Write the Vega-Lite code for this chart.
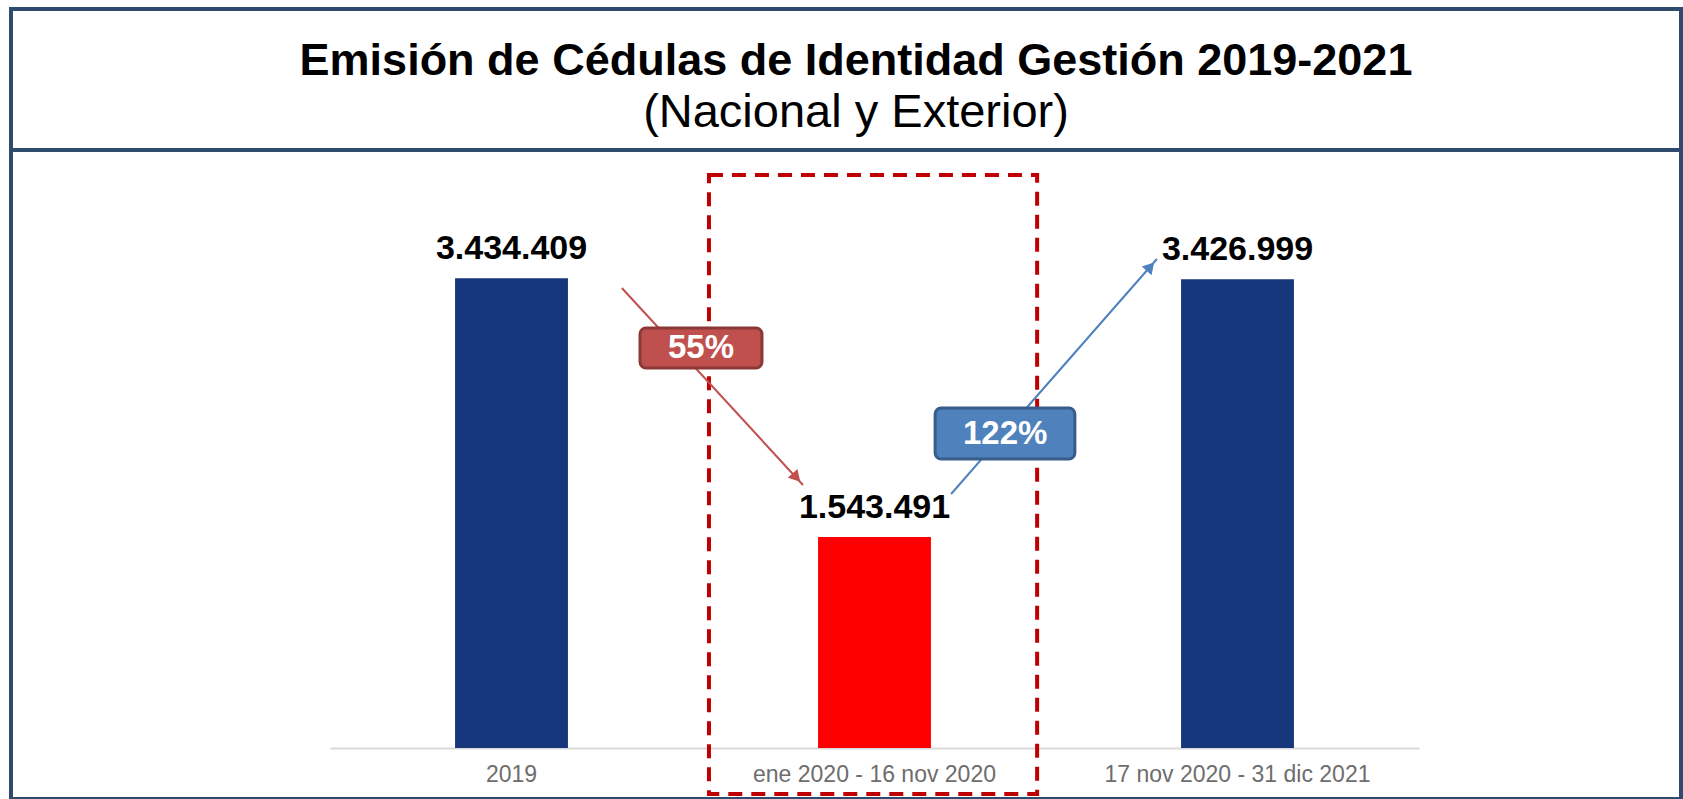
{
  "$schema": "https://vega.github.io/schema/vega-lite/v6.json",
  "width": 1670,
  "height": 790,
  "autosize": {"type": "none"},
  "padding": {"left": 11, "top": 9, "right": 2, "bottom": 0},
  "background": "white",
  "config": {
    "view": {"stroke": "#2E4A6D", "strokeWidth": 4, "fill": "white"},
    "locale": {"number": {"decimal": ",", "thousands": ".", "grouping": [3], "currency": ["", ""]}},
    "font": "Liberation Sans"
  },
  "title": {
    "text": "Emisión de Cédulas de Identidad Gestión 2019-2021",
    "subtitle": "\u2003\u2003(Nacional y Exterior)",
    "anchor": "middle",
    "frame": "group",
    "offset": -127,
    "dx": 10,
    "font": "Liberation Sans",
    "fontSize": 45,
    "fontWeight": "bold",
    "color": "black",
    "subtitleFont": "Liberation Sans",
    "subtitleFontSize": 47,
    "subtitleColor": "black",
    "subtitlePadding": 6
  },
  "layer": [
    {
      "data": {"values": [{}]},
      "mark": {"type": "rule", "stroke": "#2E4A6D", "strokeWidth": 4},
      "encoding": {
        "y": {"datum": 4372930, "type": "quantitative", "scale": {"domain": [0, 4000000], "range": [739, 192], "nice": false}, "axis": null}
      }
    },
    {
      "data": {"values": [
        {"periodo": "2019", "emisiones": 3434409, "tipo": "normal"},
        {"periodo": "ene 2020 - 16 nov 2020", "emisiones": 1543491, "tipo": "caida"},
        {"periodo": "17 nov 2020 -  31 dic 2021", "emisiones": 3426999, "tipo": "normal"}
      ]},
      "layer": [
        {
          "mark": {"type": "bar"},
          "encoding": {
            "x": {"field": "periodo", "type": "nominal", "sort": null,
              "scale": {"type": "band", "range": [319, 1408], "paddingInner": 0.689, "paddingOuter": 0.3445},
              "axis": {"orient": "bottom", "offset": -51, "title": null, "labelAngle": 0, "ticks": false,
                "domainColor": "#D9D9D9", "domainWidth": 2, "labelColor": "#6D6D6D", "labelFont": "Liberation Sans",
                "labelFontSize": 23, "labelPadding": 15, "labelLimit": 500, "grid": false}},
            "y": {"field": "emisiones", "type": "quantitative", "scale": {"domain": [0, 4000000], "range": [739, 192], "nice": false}, "axis": null},
            "color": {"field": "tipo", "type": "nominal", "scale": {"domain": ["normal", "caida"], "range": ["#17377D", "#FF0000"]}, "legend": null}
          }
        },
        {
          "mark": {"type": "text", "dy": -19, "baseline": "alphabetic", "fontSize": 34, "fontWeight": "bold", "color": "black", "font": "Liberation Sans"},
          "encoding": {
            "x": {"field": "periodo", "type": "nominal", "sort": null},
            "y": {"field": "emisiones", "type": "quantitative"},
            "text": {"field": "emisiones", "type": "quantitative", "format": ",d"}
          }
        }
      ]
    },
    {
      "data": {"values": [{"zona": "periodo de caída"}]},
      "mark": {"type": "rect", "fillOpacity": 0, "stroke": "#C00000", "strokeWidth": 4, "strokeDash": [14, 9]},
      "encoding": {
        "x": {"datum": 1.044, "type": "quantitative", "scale": {"domain": [0, 3], "range": [319, 1408]}, "axis": null},
        "x2": {"datum": 1.948},
        "y": {"datum": 4190100, "type": "quantitative"},
        "y2": {"datum": -336400}
      }
    },
    {
      "data": {"values": [{"flecha": "baja"}]},
      "mark": {"type": "rule", "stroke": "#C0504D", "strokeWidth": 2},
      "encoding": {
        "x": {"datum": 0.804, "type": "quantitative", "scale": {"domain": [0, 3], "range": [319, 1408]}, "axis": null},
        "x2": {"datum": 1.303},
        "y": {"datum": 3363800, "type": "quantitative"},
        "y2": {"datum": 1923200}
      }
    },
    {
      "data": {"values": [{"flecha": "baja"}]},
      "mark": {"type": "point", "shape": "triangle-up", "filled": true, "opacity": 1, "color": "#C0504D", "size": 170, "angle": 137.4},
      "encoding": {
        "x": {"datum": 1.285, "type": "quantitative", "scale": {"domain": [0, 3], "range": [319, 1408]}, "axis": null},
        "y": {"datum": 1978000, "type": "quantitative"}
      }
    },
    {
      "data": {"values": [{"flecha": "sube"}]},
      "mark": {"type": "rule", "stroke": "#4F81BD", "strokeWidth": 2},
      "encoding": {
        "x": {"datum": 1.711, "type": "quantitative", "scale": {"domain": [0, 3], "range": [319, 1408]}, "axis": null},
        "x2": {"datum": 2.278},
        "y": {"datum": 1857400, "type": "quantitative"},
        "y2": {"datum": 3575900}
      }
    },
    {
      "data": {"values": [{"flecha": "sube"}]},
      "mark": {"type": "point", "shape": "triangle-up", "filled": true, "opacity": 1, "color": "#4F81BD", "size": 170, "angle": 41.2},
      "encoding": {
        "x": {"datum": 2.26, "type": "quantitative", "scale": {"domain": [0, 3], "range": [319, 1408]}, "axis": null},
        "y": {"datum": 3520000, "type": "quantitative"}
      }
    },
    {
      "data": {"values": [{"etiqueta": "55%"}]},
      "mark": {"type": "rect", "fill": "#C0504D", "stroke": "#8C3836", "strokeWidth": 3, "cornerRadius": 6},
      "encoding": {
        "x": {"datum": 0.854, "type": "quantitative", "scale": {"domain": [0, 3], "range": [319, 1408]}, "axis": null},
        "x2": {"datum": 1.19},
        "y": {"datum": 3071300, "type": "quantitative"},
        "y2": {"datum": 2778800}
      }
    },
    {
      "data": {"values": [{"etiqueta": "122%"}]},
      "mark": {"type": "rect", "fill": "#4F81BD", "stroke": "#385D8A", "strokeWidth": 3, "cornerRadius": 6},
      "encoding": {
        "x": {"datum": 1.667, "type": "quantitative", "scale": {"domain": [0, 3], "range": [319, 1408]}, "axis": null},
        "x2": {"datum": 2.052},
        "y": {"datum": 2486300, "type": "quantitative"},
        "y2": {"datum": 2113300}
      }
    },
    {
      "data": {"values": [{"etiqueta": "55%"}]},
      "mark": {"type": "text", "color": "white", "fontSize": 33, "fontWeight": "bold", "baseline": "middle", "font": "Liberation Sans"},
      "encoding": {
        "x": {"datum": 1.022, "type": "quantitative", "scale": {"domain": [0, 3], "range": [319, 1408]}, "axis": null},
        "y": {"datum": 2925000, "type": "quantitative"},
        "text": {"field": "etiqueta", "type": "nominal"}
      }
    },
    {
      "data": {"values": [{"etiqueta": "122%"}]},
      "mark": {"type": "text", "color": "white", "fontSize": 33, "fontWeight": "bold", "baseline": "middle", "font": "Liberation Sans"},
      "encoding": {
        "x": {"datum": 1.86, "type": "quantitative", "scale": {"domain": [0, 3], "range": [319, 1408]}, "axis": null},
        "y": {"datum": 2299800, "type": "quantitative"},
        "text": {"field": "etiqueta", "type": "nominal"}
      }
    }
  ],
  "resolve": {"scale": {"x": "independent"}}
}
